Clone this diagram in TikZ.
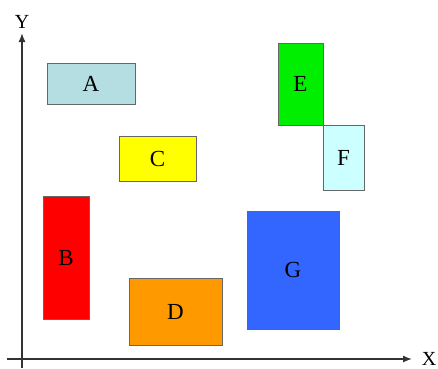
\documentclass[tikz,border=0pt]{standalone}
\usepackage{fontspec}
\setmainfont{Liberation Serif}
\usetikzlibrary{arrows.meta}
\definecolor{cA}{RGB}{180,222,226}
\definecolor{cB}{RGB}{255,0,0}
\definecolor{cC}{RGB}{255,255,0}
\definecolor{cD}{RGB}{255,153,0}
\definecolor{cE}{RGB}{0,238,0}
\definecolor{cF}{RGB}{204,255,255}
\definecolor{cG}{RGB}{51,102,255}
\tikzset{
  box/.style={draw=black!60, line width=0.7pt, inner sep=0pt, outer sep=0pt, font=\fontsize{23}{23}\selectfont},
  axis/.style={line width=1.4pt, draw=black!80, -{Latex[length=9pt,width=7pt]}},
  axlabel/.style={font=\fontsize{20}{20}\selectfont, inner sep=0pt, anchor=base}
}
\begin{document}
\begin{tikzpicture}[x=1pt,y=-1pt]
\useasboundingbox (0,0) rectangle (438,368);
\fill[white] (0,0) rectangle (438,368);
\coordinate (yb) at (22,368);
\coordinate (yt) at (22,33);
\coordinate (xl) at (7,359);
\coordinate (xr) at (412,359);
\draw[axis] (yb) -- (yt);
\draw[axis] (xl) -- (xr);
\node[axlabel] (Y) at (22,28) {Y};
\node[axlabel] (X) at (429,365) {X};
\node[box, fill=cA, minimum width=88pt, minimum height=41pt] (A) at (91,84) {A};
\node[box, fill=cC, minimum width=77pt, minimum height=45pt] (C) at (157.5,158.5) {C};
\node[box, fill=cE, minimum width=45pt, minimum height=82pt] (E) at (300.5,84) {E};
\node[box, fill=cF, minimum width=41pt, minimum height=65pt] (F) at (343.5,157.5) {F};
\node[box, fill=cB, minimum width=46pt, minimum height=123pt] (B) at (66,257.5) {B};
\node[box, fill=cD, minimum width=93pt, minimum height=67pt] (D) at (175.5,311.5) {D};
\node[box, fill=cG, minimum width=92pt, minimum height=118pt] (G) at (293,270) {G};
\end{tikzpicture}
\end{document}
